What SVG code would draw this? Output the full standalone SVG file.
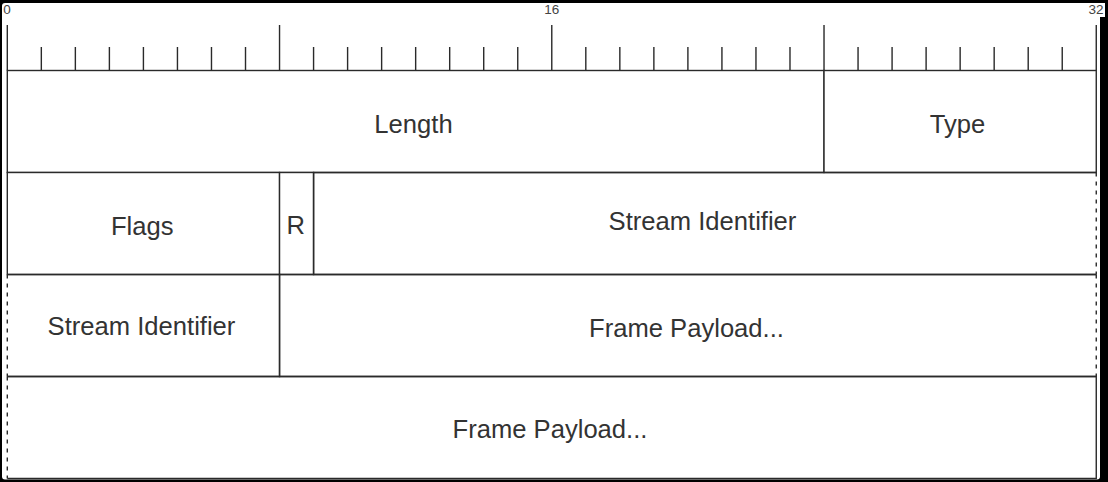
<svg xmlns="http://www.w3.org/2000/svg" width="1108" height="482" viewBox="0 0 1108 482">
<style>
.ln{stroke:#2a2a2a;stroke-width:1.4;fill:none}
.box{stroke:#2a2a2a;stroke-width:1.4;fill:#fff}
.dash{stroke:#2a2a2a;stroke-width:1.4;fill:none;stroke-dasharray:4 5}
.lbl{font-family:"Liberation Sans",Arial,Helvetica,sans-serif;font-size:25.6px;fill:#333;text-anchor:middle}
.num{font-family:"Liberation Sans",Arial,Helvetica,sans-serif;font-size:13.5px;fill:#444;text-anchor:middle}
</style>
<rect width="1108" height="482" fill="#000"/>
<rect x="2" y="3" width="1098" height="476.5" rx="3" fill="#fff"/>
<rect x="1085" y="3" width="20" height="14" fill="#fff"/>
<g id="ruler">
<text class="num" x="7" y="13.5">0</text>
<text class="num" x="551.8" y="13.5">16</text>
<text class="num" x="1096" y="13.5">32</text>
<path class="ln" d="M7.3 25V70.5M279.54 25V70.5M551.78 25V70.5M824.02 25V70.5M1096.26 25V70.5"/>
<path class="ln" d="M41.33 47V70.5M75.36 47V70.5M109.39 47V70.5M143.42 47V70.5M177.45 47V70.5M211.48 47V70.5M245.51 47V70.5M313.57 47V70.5M347.6 47V70.5M381.63 47V70.5M415.66 47V70.5M449.69 47V70.5M483.72 47V70.5M517.75 47V70.5M585.81 47V70.5M619.84 47V70.5M653.87 47V70.5M687.9 47V70.5M721.93 47V70.5M755.96 47V70.5M789.99 47V70.5M858.05 47V70.5M892.08 47V70.5M926.11 47V70.5M960.14 47V70.5M994.17 47V70.5M1028.2 47V70.5M1062.23 47V70.5"/>
</g>
<g id="length">
<rect class="box" x="7.3" y="70.5" width="816.72" height="102"/>
<text class="lbl" x="413.5" y="133.3">Length</text>
</g>
<g id="type">
<rect class="box" x="824.02" y="70.5" width="272.24" height="102"/>
<text class="lbl" x="957.5" y="133">Type</text>
</g>
<g id="flags">
<rect class="box" x="7.3" y="172.5" width="272.24" height="102"/>
<text class="lbl" x="142.2" y="235">Flags</text>
</g>
<g id="reserved">
<rect class="box" x="279.54" y="172.5" width="34.03" height="102"/>
<text class="lbl" x="295.8" y="234">R</text>
</g>
<g id="stream-id-1">
<path class="ln" d="M1096.26 172.5H313.57V274.5H1096.26"/>
<path class="dash" d="M1096.26 172.5V274.5"/>
<text class="lbl" x="702.5" y="229.5">Stream Identifier</text>
</g>
<g id="stream-id-2">
<path class="ln" d="M7.3 274.5H279.54V376.5H7.3"/>
<path class="dash" d="M7.3 274.5V376.5"/>
<text class="lbl" x="141.5" y="334.5">Stream Identifier</text>
</g>
<g id="payload-1">
<path class="ln" d="M1096.26 274.5H279.54V376.5H1096.26"/>
<path class="dash" d="M1096.26 274.5V376.5"/>
<text class="lbl" x="686.5" y="337.3">Frame Payload...</text>
</g>
<g id="payload-2">
<path class="ln" d="M7.3 376.5H1096.26V478.5H7.3"/>
<path class="dash" d="M7.3 376.5V478.5"/>
<text class="lbl" x="550" y="438.3">Frame Payload...</text>
</g>
</svg>
